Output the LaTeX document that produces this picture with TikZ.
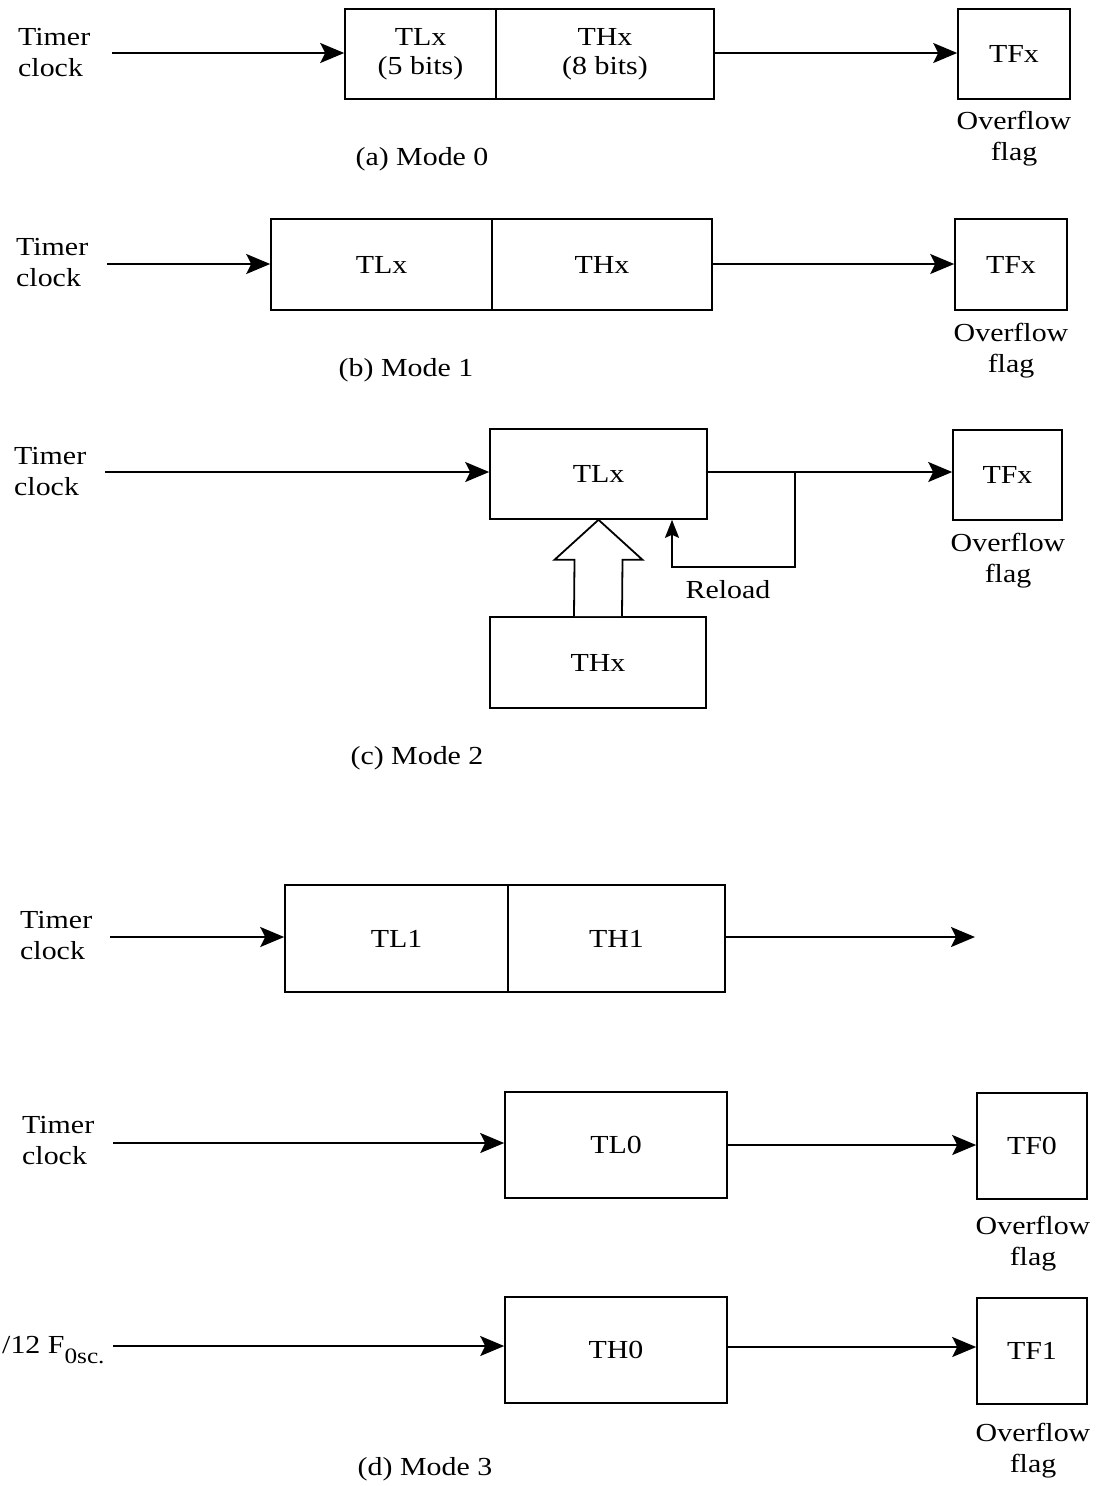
\documentclass[tikz,border=0pt]{standalone}
\usepackage{fontspec}
\setmainfont{Liberation Serif}[FakeStretch=1.15]
\usetikzlibrary{arrows.meta,calc}
\begin{document}
\begin{tikzpicture}[x=1pt,y=-1pt,
  reg/.style={draw, line width=1.6pt, inner sep=0pt, align=center, font=\fontsize{26}{29}\selectfont},
  lbl/.style={inner sep=0pt, align=center, font=\fontsize{26}{31}\selectfont},
  lblL/.style={inner sep=0pt, align=left, anchor=west, font=\fontsize{26}{31}\selectfont},
  arr/.style={line width=2pt, -{Stealth[length=24pt,width=20pt,inset=5pt]}},
  arrS/.style={line width=2pt, -{Stealth[length=18pt,width=14pt,inset=3pt]}},
  ln/.style={line width=2pt}]
\useasboundingbox (0,0) rectangle (1103,1486);

% ---------- (a) Mode 0
\node[lblL] (timerA) at (18,53) {Timer\\clock};
\coordinate (inA) at (112,53);
\node[reg, minimum width=151pt, minimum height=90pt] (tlA) at (420.5,54) {TLx\\(5 bits)};
\node[reg, minimum width=218pt, minimum height=90pt] (thA) at (605,54) {THx\\(8 bits)};
\node[reg, minimum width=112pt, minimum height=90pt] (tfA) at (1014,54) {TFx};
\node[lbl] (ovA) at (1014,139) {Overflow\\flag};
\node[lbl] (capA) at (422,159) {(a) Mode 0};
\draw[arr] (inA) -- (inA -| tlA.west);
\draw[arr] (thA.east |- inA) -- (tfA.west |- inA);

% ---------- (b) Mode 1
\node[lblL] (timerB) at (16,263) {Timer\\clock};
\coordinate (inB) at (107,264);
\node[reg, minimum width=221pt, minimum height=91pt] (tlB) at (381.5,264.5) {TLx};
\node[reg, minimum width=220pt, minimum height=91pt] (thB) at (602,264.5) {THx};
\node[reg, minimum width=112pt, minimum height=91pt] (tfB) at (1011,264.5) {TFx};
\node[lbl] (ovB) at (1011,351) {Overflow\\flag};
\node[lbl] (capB) at (406,370) {(b) Mode 1};
\draw[arr] (inB) -- (inB -| tlB.west);
\draw[arr] (thB.east |- inB) -- (tfB.west |- inB);

% ---------- (c) Mode 2
\node[lblL] (timerC) at (14,472) {Timer\\clock};
\coordinate (inC) at (105,472);
\node[reg, minimum width=217pt, minimum height=90pt] (tlC) at (598.5,474) {TLx};
\node[reg, minimum width=109pt, minimum height=90pt] (tfC) at (1007.5,475) {TFx};
\node[lbl] (ovC) at (1008,561) {Overflow\\flag};
\node[reg, minimum width=216pt, minimum height=91pt] (thC) at (598,662.5) {THx};
\node[lbl] (reloadC) at (728,590) {Reload};
\node[lbl] (capC) at (417,758) {(c) Mode 2};
\draw[arr] (inC) -- (inC -| tlC.west);
\draw[arr] (tlC.east |- inC) -- (tfC.west |- inC);
\coordinate (rj) at (795,472);
\coordinate (rc) at (672,567);
\draw[arrS] (rj) |- (rc) -- (rc |- tlC.south);
% hollow transfer arrow
\draw[line width=1.8pt, line join=miter, fill=white]
  ($(thC.north)+(-24,0)$) -- ($(tlC.south)+(-24,40)$) -- ($(tlC.south)+(-44,40)$)
  -- (tlC.south) -- ($(tlC.south)+(44,40)$) -- ($(tlC.south)+(24,40)$) -- ($(thC.north)+(24,0)$);

% ---------- (d) Mode 3, timer 1
\node[lblL] (timerD) at (20,936) {Timer\\clock};
\coordinate (inD) at (110,937);
\node[reg, minimum width=223pt, minimum height=107pt] (tlD) at (396.5,938.5) {TL1};
\node[reg, minimum width=217pt, minimum height=107pt] (thD) at (616.5,938.5) {TH1};
\coordinate (outD) at (975,937);
\draw[arr] (inD) -- (inD -| tlD.west);
\draw[arr] (thD.east |- outD) -- (outD);

% ---------- (d) Mode 3, timer 0
\node[lblL] (timerE) at (22,1141) {Timer\\clock};
\coordinate (inE) at (113,1143);
\node[reg, minimum width=222pt, minimum height=106pt] (tlE) at (616,1145) {TL0};
\node[reg, minimum width=110pt, minimum height=106pt] (tfE) at (1032,1146) {TF0};
\node[lbl] (ovE) at (1033,1244) {Overflow\\flag};
\draw[arr] (inE) -- (inE -| tlE.west);
\draw[arr] (tlE.east |- 0,1145) -- (tfE.west |- 0,1145);

\node[lblL] (fosc) at (2,1350) {/12 F\raisebox{-0.35em}{\fontsize{22}{24}\selectfont 0sc.}};
\coordinate (inF) at (113,1346);
\node[reg, minimum width=222pt, minimum height=106pt] (thF) at (616,1350) {TH0};
\node[reg, minimum width=110pt, minimum height=106pt] (tfF) at (1032,1351) {TF1};
\node[lbl] (ovF) at (1033,1451) {Overflow\\flag};
\node[lbl] (capF) at (425,1469) {(d) Mode 3};
\draw[arr] (inF) -- (inF -| thF.west);
\draw[arr] (thF.east |- 0,1347) -- (tfF.west |- 0,1347);
\end{tikzpicture}
\end{document}
